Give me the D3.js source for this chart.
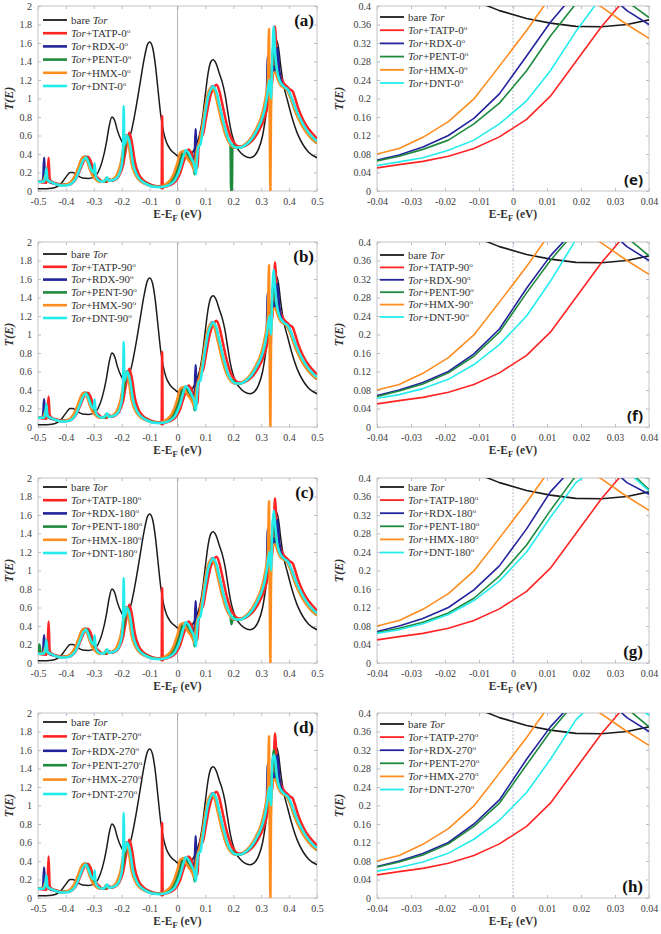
<!DOCTYPE html>
<html><head><meta charset="utf-8">
<script src="https://cdn.jsdelivr.net/npm/d3@7"></script>
<style>body{margin:0;background:#fff} svg{display:block} text{font-family:"Liberation Serif","Times New Roman",Times,Tinos,"Noto Serif","DejaVu Serif",serif}</style></head>
<body>
<svg id="c" width="661" height="934"></svg>
<script>
// ---------------- DATA ----------------
const angles = ["0", "90", "180", "270"];
const seriesKeys = ["bare", "TATP", "RDX", "PENT", "HMX", "DNT"];
const molecules = ["", "TATP", "RDX", "PENT", "HMX", "DNT"];
const panelLettersLeft = ["(a)", "(b)", "(c)", "(d)"];
const panelLettersRight = ["(e)", "(f)", "(g)", "(h)"];
const xTicksWide = [-0.5,-0.4,-0.3,-0.2,-0.1,0,0.1,0.2,0.3,0.4,0.5];
const yTicksWide = [0,0.2,0.4,0.6,0.8,1,1.2,1.4,1.6,1.8,2];
const xTicksZoom = [-0.04,-0.03,-0.02,-0.01,0,0.01,0.02,0.03,0.04];
const yTicksZoom = [0,0.04,0.08,0.12,0.16,0.2,0.24,0.28,0.32,0.36,0.4];

// wide-range T(E) (panels a-d)
const bareWide = [[-0.5,0.025],[-0.47,0.025],[-0.45,0.03],[-0.43,0.05],[-0.415,0.09],[-0.4,0.15],[-0.385,0.2],[-0.375,0.2],[-0.36,0.17],[-0.34,0.14],[-0.32,0.135],[-0.3,0.15],[-0.285,0.2],[-0.27,0.32],[-0.255,0.52],[-0.245,0.7],[-0.235,0.8],[-0.225,0.76],[-0.215,0.65],[-0.2,0.54],[-0.19,0.5],[-0.18,0.52],[-0.165,0.65],[-0.15,0.88],[-0.135,1.15],[-0.12,1.42],[-0.108,1.58],[-0.1,1.61],[-0.09,1.56],[-0.08,1.38],[-0.07,1.1],[-0.06,0.82],[-0.05,0.64],[-0.04,0.53],[-0.03,0.47],[-0.02,0.43],[-0.01,0.405],[0,0.38],[0.01,0.366],[0.02,0.356],[0.03,0.36],[0.04,0.37],[0.05,0.4],[0.06,0.45],[0.07,0.52],[0.08,0.62],[0.09,0.8],[0.1,1.05],[0.11,1.28],[0.12,1.4],[0.128,1.42],[0.138,1.38],[0.15,1.27],[0.16,1.18],[0.17,1.05],[0.18,0.86],[0.19,0.68],[0.2,0.56],[0.21,0.48],[0.225,0.42],[0.24,0.38],[0.26,0.36],[0.275,0.38],[0.29,0.45],[0.305,0.6],[0.315,0.78],[0.325,1.0],[0.335,1.22],[0.345,1.5],[0.355,1.63],[0.362,1.55],[0.37,1.35],[0.38,1.15],[0.395,0.97],[0.41,0.8],[0.43,0.62],[0.45,0.5],[0.47,0.42],[0.5,0.36]];
const tatpWide = [[-0.5,0.1],[-0.47,0.09],[-0.466,0.15],[-0.462,0.36],[-0.458,0.13],[-0.45,0.1],[-0.43,0.08],[-0.41,0.065],[-0.39,0.068],[-0.375,0.09],[-0.36,0.15],[-0.345,0.26],[-0.333,0.34],[-0.322,0.37],[-0.312,0.33],[-0.302,0.24],[-0.292,0.17],[-0.282,0.13],[-0.268,0.1],[-0.253,0.1],[-0.245,0.13],[-0.238,0.11],[-0.225,0.12],[-0.21,0.16],[-0.195,0.28],[-0.185,0.45],[-0.173,0.63],[-0.163,0.52],[-0.153,0.32],[-0.14,0.19],[-0.12,0.11],[-0.1,0.075],[-0.08,0.055],[-0.065,0.05],[-0.06,0.04],[-0.057,0.03],[-0.055,0.81],[-0.053,0.03],[-0.05,0.04],[-0.04,0.05],[-0.03,0.06],[-0.02,0.073],[-0.01,0.097],[0,0.135],[0.01,0.198],[0.02,0.295],[0.03,0.39],[0.04,0.45],[0.048,0.42],[0.058,0.35],[0.068,0.3],[0.072,0.25],[0.075,0.45],[0.08,0.55],[0.085,0.65],[0.09,0.6],[0.1,0.75],[0.11,0.92],[0.12,1.05],[0.13,1.12],[0.14,1.15],[0.15,1.08],[0.162,0.92],[0.175,0.74],[0.19,0.59],[0.205,0.51],[0.22,0.48],[0.235,0.48],[0.255,0.51],[0.275,0.57],[0.295,0.67],[0.315,0.82],[0.325,0.95],[0.333,1.08],[0.34,1.2],[0.345,1.5],[0.35,1.78],[0.355,1.5],[0.362,1.32],[0.372,1.22],[0.382,1.16],[0.392,1.13],[0.402,1.1],[0.412,1.08],[0.422,1.0],[0.432,0.9],[0.45,0.77],[0.47,0.67],[0.49,0.6],[0.5,0.56]];
const rdxWide = [[-0.5,0.1],[-0.485,0.1],[-0.481,0.15],[-0.478,0.36],[-0.475,0.12],[-0.468,0.14],[-0.46,0.1],[-0.44,0.08],[-0.42,0.065],[-0.4,0.07],[-0.383,0.09],[-0.368,0.15],[-0.353,0.26],[-0.343,0.34],[-0.333,0.37],[-0.323,0.33],[-0.313,0.24],[-0.303,0.17],[-0.293,0.13],[-0.278,0.1],[-0.263,0.1],[-0.255,0.14],[-0.248,0.11],[-0.233,0.12],[-0.218,0.16],[-0.203,0.28],[-0.193,0.45],[-0.183,0.6],[-0.173,0.5],[-0.163,0.3],[-0.148,0.17],[-0.128,0.1],[-0.108,0.07],[-0.088,0.05],[-0.068,0.045],[-0.052,0.05],[-0.04,0.067],[-0.03,0.083],[-0.02,0.115],[-0.01,0.166],[0,0.25],[0.01,0.355],[0.02,0.425],[0.03,0.425],[0.04,0.36],[0.05,0.3],[0.058,0.25],[0.062,0.4],[0.065,0.67],[0.068,0.45],[0.075,0.5],[0.085,0.6],[0.095,0.78],[0.105,0.96],[0.115,1.08],[0.125,1.13],[0.135,1.08],[0.148,0.92],[0.162,0.73],[0.177,0.58],[0.192,0.5],[0.207,0.47],[0.222,0.47],[0.242,0.5],[0.262,0.56],[0.282,0.66],[0.302,0.8],[0.312,0.92],[0.32,1.05],[0.324,1.45],[0.328,1.1],[0.335,1.2],[0.343,1.35],[0.35,1.3],[0.358,1.55],[0.365,1.3],[0.375,1.15],[0.385,1.12],[0.395,1.1],[0.405,1.03],[0.415,0.95],[0.425,0.86],[0.445,0.73],[0.465,0.63],[0.485,0.56],[0.5,0.52]];
const pentWide = [[-0.5,0.1],[-0.48,0.1],[-0.474,0.16],[-0.468,0.12],[-0.455,0.1],[-0.44,0.08],[-0.42,0.065],[-0.4,0.068],[-0.38,0.09],[-0.365,0.15],[-0.35,0.26],[-0.34,0.34],[-0.33,0.37],[-0.32,0.33],[-0.31,0.24],[-0.3,0.17],[-0.29,0.13],[-0.275,0.1],[-0.26,0.1],[-0.252,0.13],[-0.245,0.11],[-0.23,0.12],[-0.215,0.16],[-0.2,0.28],[-0.19,0.45],[-0.18,0.6],[-0.17,0.5],[-0.16,0.3],[-0.145,0.17],[-0.125,0.1],[-0.105,0.07],[-0.085,0.05],[-0.065,0.045],[-0.05,0.05],[-0.04,0.065],[-0.03,0.08],[-0.02,0.107],[-0.01,0.152],[0,0.225],[0.01,0.325],[0.02,0.415],[0.03,0.435],[0.04,0.375],[0.05,0.31],[0.058,0.25],[0.062,0.18],[0.066,0.4],[0.072,0.45],[0.08,0.52],[0.09,0.68],[0.1,0.88],[0.11,1.04],[0.12,1.1],[0.128,1.12],[0.138,1.07],[0.15,0.92],[0.165,0.73],[0.18,0.58],[0.19,0.52],[0.2,0.5],[0.21,0.47],[0.225,0.47],[0.245,0.5],[0.265,0.56],[0.285,0.66],[0.305,0.8],[0.315,0.92],[0.322,1.05],[0.33,1.2],[0.338,1.35],[0.345,1.6],[0.352,1.35],[0.36,1.25],[0.37,1.16],[0.38,1.12],[0.39,1.1],[0.4,1.05],[0.41,0.97],[0.42,0.88],[0.44,0.75],[0.46,0.65],[0.48,0.57],[0.5,0.52]];
const hmxWide = [[-0.5,0.1],[-0.485,0.1],[-0.478,0.13],[-0.472,0.18],[-0.466,0.12],[-0.455,0.1],[-0.44,0.08],[-0.42,0.065],[-0.4,0.07],[-0.385,0.09],[-0.37,0.15],[-0.355,0.26],[-0.345,0.34],[-0.335,0.37],[-0.325,0.33],[-0.315,0.24],[-0.305,0.17],[-0.295,0.13],[-0.28,0.1],[-0.265,0.1],[-0.255,0.14],[-0.248,0.11],[-0.235,0.12],[-0.22,0.16],[-0.205,0.28],[-0.195,0.45],[-0.185,0.6],[-0.175,0.5],[-0.165,0.3],[-0.15,0.17],[-0.13,0.1],[-0.11,0.07],[-0.09,0.05],[-0.07,0.045],[-0.055,0.05],[-0.04,0.08],[-0.03,0.103],[-0.02,0.145],[-0.01,0.215],[0,0.309],[0.01,0.415],[0.02,0.43],[0.03,0.38],[0.04,0.33],[0.048,0.3],[0.055,0.26],[0.06,0.22],[0.065,0.35],[0.07,0.45],[0.08,0.55],[0.09,0.72],[0.1,0.92],[0.11,1.06],[0.122,1.12],[0.132,1.08],[0.145,0.92],[0.16,0.73],[0.175,0.58],[0.19,0.5],[0.205,0.47],[0.22,0.47],[0.24,0.5],[0.26,0.56],[0.28,0.66],[0.3,0.8],[0.31,0.92],[0.318,1.05],[0.324,1.2],[0.328,1.75],[0.331,0.5],[0.333,0.0],[0.335,0.8],[0.34,1.25],[0.35,1.28],[0.36,1.2],[0.37,1.14],[0.38,1.12],[0.39,1.1],[0.4,1.05],[0.41,0.97],[0.42,0.88],[0.44,0.74],[0.46,0.64],[0.48,0.57],[0.5,0.52]];
const dntWide = [[-0.5,0.1],[-0.48,0.1],[-0.474,0.14],[-0.47,0.25],[-0.466,0.12],[-0.455,0.1],[-0.44,0.08],[-0.42,0.06],[-0.4,0.06],[-0.38,0.08],[-0.365,0.13],[-0.35,0.24],[-0.338,0.33],[-0.328,0.36],[-0.318,0.3],[-0.308,0.22],[-0.3,0.2],[-0.297,0.3],[-0.293,0.16],[-0.285,0.12],[-0.27,0.1],[-0.258,0.12],[-0.252,0.15],[-0.245,0.11],[-0.23,0.12],[-0.215,0.15],[-0.2,0.28],[-0.195,0.5],[-0.193,0.92],[-0.19,0.5],[-0.18,0.6],[-0.17,0.5],[-0.16,0.3],[-0.145,0.17],[-0.125,0.1],[-0.105,0.065],[-0.085,0.045],[-0.065,0.04],[-0.05,0.045],[-0.04,0.055],[-0.03,0.067],[-0.02,0.085],[-0.01,0.115],[0,0.17],[0.01,0.25],[0.02,0.36],[0.03,0.44],[0.04,0.41],[0.05,0.35],[0.06,0.28],[0.066,0.18],[0.07,0.35],[0.075,0.48],[0.082,0.5],[0.09,0.65],[0.1,0.85],[0.11,1.02],[0.12,1.1],[0.128,1.13],[0.138,1.08],[0.15,0.93],[0.165,0.74],[0.18,0.58],[0.195,0.5],[0.21,0.47],[0.225,0.47],[0.245,0.5],[0.265,0.56],[0.285,0.66],[0.305,0.8],[0.315,0.92],[0.322,1.05],[0.33,1.2],[0.335,1.0],[0.34,1.45],[0.345,1.78],[0.35,1.5],[0.357,1.3],[0.365,1.2],[0.375,1.15],[0.385,1.12],[0.395,1.1],[0.405,1.04],[0.415,0.96],[0.425,0.88],[0.445,0.75],[0.465,0.65],[0.485,0.58],[0.5,0.54]];

// per-angle differences of the wide curves (points added or replaced)
const wideChanges0 = {RDX: [[-0.478,0.36]], TATP: [[-0.462,0.36]], PENT: [[0.19,0.5],[0.192,0.0],[0.195,0.0],[0.197,0.5]], DNT: [[0.345,1.78]]};
const wideChanges90 = {RDX: [[-0.478,0.3]], TATP: [[-0.462,0.33]], DNT: [[0.345,1.7]]};
const wideChanges180 = {RDX: [[-0.478,0.3]], TATP: [[-0.462,0.45]], PENT: [[-0.495,0.2],[-0.49,0.1],[0.193,0.42]], DNT: [[0.345,1.65]]};
const wideChanges270 = {RDX: [[-0.478,0.33]], TATP: [[-0.462,0.45]], DNT: [[0.345,1.55]]};

// zoomed T(E) near E_F (panels e-h)
const eZoom = [-0.04,-0.0335,-0.0265,-0.019,-0.0115,-0.004,0.004,0.011,0.0185,0.026,0.0335,0.04];
const bareZoom = [0.53,0.5,0.47,0.44,0.412,0.39,0.373,0.363,0.356,0.355,0.36,0.37];
const tatpZoom = [0.05,0.057,0.064,0.075,0.092,0.117,0.155,0.205,0.28,0.355,0.42,0.45];
const hmxZoom = [0.08,0.092,0.116,0.15,0.199,0.27,0.347,0.42,0.43,0.398,0.36,0.33];
const rdxZoom0 = [0.067,0.078,0.095,0.12,0.157,0.21,0.292,0.365,0.43,0.44,0.39,0.36];
const rdxZoom90 = [0.068,0.08,0.096,0.12,0.158,0.212,0.3,0.37,0.43,0.44,0.39,0.36];
const rdxZoom180 = [0.068,0.08,0.096,0.12,0.158,0.21,0.29,0.37,0.43,0.44,0.39,0.365];
const rdxZoom270 = [0.068,0.08,0.096,0.12,0.16,0.212,0.3,0.37,0.43,0.44,0.39,0.36];
const pentZoom0 = [0.065,0.075,0.09,0.11,0.145,0.19,0.26,0.335,0.405,0.44,0.41,0.375];
const pentZoom90 = [0.066,0.078,0.093,0.117,0.153,0.205,0.29,0.36,0.425,0.44,0.41,0.37];
const pentZoom180 = [0.066,0.075,0.088,0.108,0.14,0.188,0.255,0.33,0.405,0.44,0.42,0.375];
const pentZoom270 = [0.067,0.078,0.093,0.117,0.155,0.205,0.288,0.36,0.425,0.44,0.41,0.37];
const dntZoom0 = [0.055,0.063,0.072,0.088,0.11,0.145,0.195,0.26,0.345,0.42,0.45,0.44];
const dntZoom90 = [0.062,0.07,0.083,0.103,0.135,0.178,0.24,0.315,0.405,0.45,0.45,0.43];
const dntZoom180 = [0.064,0.072,0.085,0.105,0.135,0.177,0.24,0.315,0.39,0.43,0.415,0.372];
const dntZoom270 = [0.058,0.066,0.078,0.097,0.127,0.168,0.228,0.3,0.385,0.44,0.43,0.395];

// ---------------- BUILD ----------------
const wideBase = {bare: bareWide, TATP: tatpWide, RDX: rdxWide, PENT: pentWide, HMX: hmxWide, DNT: dntWide};
const wideChanges = [wideChanges0, wideChanges90, wideChanges180, wideChanges270];
const zoomByAngle = [
  {bare: bareZoom, TATP: tatpZoom, RDX: rdxZoom0, PENT: pentZoom0, HMX: hmxZoom, DNT: dntZoom0},
  {bare: bareZoom, TATP: tatpZoom, RDX: rdxZoom90, PENT: pentZoom90, HMX: hmxZoom, DNT: dntZoom90},
  {bare: bareZoom, TATP: tatpZoom, RDX: rdxZoom180, PENT: pentZoom180, HMX: hmxZoom, DNT: dntZoom180},
  {bare: bareZoom, TATP: tatpZoom, RDX: rdxZoom270, PENT: pentZoom270, HMX: hmxZoom, DNT: dntZoom270}
];
function mergePts(base, extra) {
  const out = base.filter(p => !(extra || []).some(q => Math.abs(q[0] - p[0]) < 1e-9)).concat(extra || []);
  return out.sort((a, b) => a[0] - b[0]);
}

const colors = {bare: "#1b1b1b", TATP: "#ff2424", RDX: "#23239c", PENT: "#1f8a3e", HMX: "#ff8c1e", DNT: "#25ecec"};
const svg = d3.select("#c");
const serif = '"Liberation Serif","Times New Roman",Times,Tinos,"Noto Serif","DejaVu Serif",serif';
const tops = [6, 242, 478, 713];
const PH = 185;
const L = {x0: 38, x1: 317};
const R = {x0: 377, x1: 649};
const legLeft = [[14,13.2],[12,12.8],[9,13.2],[9,14.4]];
const legRight = [[11,13.2],[13,12.4],[9,13.1],[11,13.1]];

function legendText(sel, k, ang) {
  if (k === "bare") {
    sel.append("tspan").text("bare ");
    sel.append("tspan").style("font-style", "italic").text("Tor");
  } else {
    const m = molecules[seriesKeys.indexOf(k)];
    sel.append("tspan").style("font-style", "italic").text("Tor");
    sel.append("tspan").text("+" + m + "-" + ang);
    sel.append("tspan").style("font-size", "7px").attr("dy", -4).text("o");
  }
}

function drawPanel(opt) {
  const {box, top, xDom, yDom, xt, yt, fmt, data, wide, ang, letter, letterPos, leg, idx} = opt;
  const x = d3.scaleLinear().domain(xDom).range([box.x0, box.x1]);
  const y = d3.scaleLinear().domain(yDom).range([top + PH, top]);
  const g = svg.append("g");
  const cid = "clip" + idx;
  svg.append("clipPath").attr("id", cid).append("rect")
    .attr("x", box.x0).attr("y", top).attr("width", box.x1 - box.x0).attr("height", PH);

  // zero line
  g.append("line").attr("x1", x(0)).attr("x2", x(0)).attr("y1", top).attr("y2", top + PH)
    .attr("stroke", wide ? "#a0a0a0" : "#b8b8c8").attr("stroke-width", wide ? 0.8 : 1)
    .attr("stroke-dasharray", wide ? null : "2,1.5");

  // axes
  const xa = g.append("g").attr("transform", `translate(0,${top + PH})`)
    .call(d3.axisBottom(x).tickValues(xt).tickFormat(fmt).tickSizeInner(-3).tickSizeOuter(0).tickPadding(7));
  const ya = g.append("g").attr("transform", `translate(${box.x0},0)`)
    .call(d3.axisLeft(y).tickValues(yt).tickFormat(fmt).tickSizeInner(-3).tickSizeOuter(0).tickPadding(6));
  [xa, ya].forEach(a => {
    a.attr("font-family", null).attr("font-size", null);
    a.select(".domain").remove();
    a.selectAll("line").attr("stroke", "#9fa8cc").attr("stroke-width", 0.8);
    a.selectAll("text").style("font-family", serif).style("font-size", "10px").attr("fill", "#3a3a3a");
  });
  // top/right mirrored ticks
  g.append("g").attr("transform", `translate(0,${top})`)
    .call(d3.axisTop(x).tickValues(xt).tickFormat("").tickSizeInner(-3).tickSizeOuter(0))
    .call(a => { a.select(".domain").remove(); a.selectAll("line").attr("stroke", "#9fa8cc").attr("stroke-width", 0.8); });
  g.append("g").attr("transform", `translate(${box.x1},0)`)
    .call(d3.axisRight(y).tickValues(yt).tickFormat("").tickSizeInner(-3).tickSizeOuter(0))
    .call(a => { a.select(".domain").remove(); a.selectAll("line").attr("stroke", "#9fa8cc").attr("stroke-width", 0.8); });

  // frame
  g.append("rect").attr("x", box.x0).attr("y", top).attr("width", box.x1 - box.x0).attr("height", PH)
    .attr("fill", "none").attr("stroke", "#c4c4c4").attr("stroke-width", 1);

  // curves
  const line = d3.line().x(d => x(d[0])).y(d => y(d[1]));
  if (wide) line.curve(d3.curveMonotoneX);
  const cg = g.append("g").attr("clip-path", `url(#${cid})`);
  seriesKeys.forEach(k => {
    cg.append("path").datum(data[k]).attr("d", line).attr("fill", "none")
      .attr("stroke", colors[k])
      .attr("stroke-width", wide ? (k === "bare" ? 1.5 : 2.5) : 1.6)
      .attr("stroke-linejoin", "round");
  });

  // legend
  const lx0 = wide ? box.x0 + 5 : box.x0 + 3;
  const lx1 = wide ? box.x0 + 29 : box.x0 + 27;
  seriesKeys.forEach((k, i) => {
    const yy = top + leg[0] + i * leg[1];
    g.append("line").attr("x1", lx0).attr("x2", lx1).attr("y1", yy).attr("y2", yy)
      .attr("stroke", colors[k]).attr("stroke-width", wide && k !== "bare" ? 2.6 : 1.8);
    const t = g.append("text").attr("x", lx1 + 4).attr("y", yy + 3.8)
      .style("font-family", serif).style("font-size", "11px").attr("fill", "#333");
    legendText(t, k, ang);
  });

  // axis titles
  const xt2 = g.append("text").attr("x", (box.x0 + box.x1) / 2).attr("y", top + PH + 27)
    .attr("text-anchor", "middle").style("font-family", serif).style("font-weight", "bold")
    .style("font-size", "11.5px").attr("fill", "#333");
  xt2.append("tspan").text("E-E");
  xt2.append("tspan").style("font-size", "8.5px").attr("dy", 2.5).text("F");
  xt2.append("tspan").attr("dy", -2.5).text(" (eV)");
  g.append("text").attr("transform", `translate(${wide ? 13 : 343},${top + PH / 2}) rotate(-90)`)
    .attr("text-anchor", "middle").style("font-family", serif).style("font-weight", "bold")
    .style("font-style", "italic").style("font-size", "12px").attr("fill", "#333").text("T(E)");

  // panel letter
  const sans = (letter === "(e)" || letter === "(f)");
  g.append("text").attr("x", letterPos[0]).attr("y", letterPos[1]).attr("text-anchor", "end")
    .style("font-family", sans ? '"Open Sans","DejaVu Sans",sans-serif' : serif)
    .style("font-weight", "bold").style("font-size", sans ? "15px" : "17px").attr("fill", "#111").text(letter);
}

const fmtNum = d => String(+d.toFixed(2));
tops.forEach((top, r) => {
  const wideData = {};
  seriesKeys.forEach(k => { wideData[k] = mergePts(wideBase[k], wideChanges[r][k]); });
  drawPanel({box: L, top, xDom: [-0.5, 0.5], yDom: [0, 2], xt: xTicksWide, yt: yTicksWide, fmt: fmtNum,
    data: wideData, wide: true, ang: angles[r], letter: panelLettersLeft[r],
    letterPos: [L.x1 - 3, top + 20], leg: legLeft[r], idx: "L" + r});
  const zd = {};
  seriesKeys.forEach(k => { zd[k] = eZoom.map((e, i) => [e, zoomByAngle[r][k][i]]); });
  drawPanel({box: R, top, xDom: [-0.04, 0.04], yDom: [0, 0.4], xt: xTicksZoom, yt: yTicksZoom, fmt: fmtNum,
    data: zd, wide: false, ang: angles[r], letter: panelLettersRight[r],
    letterPos: [R.x1 - 6, top + PH - 6], leg: legRight[r], idx: "R" + r});
});
</script>
</body></html>
